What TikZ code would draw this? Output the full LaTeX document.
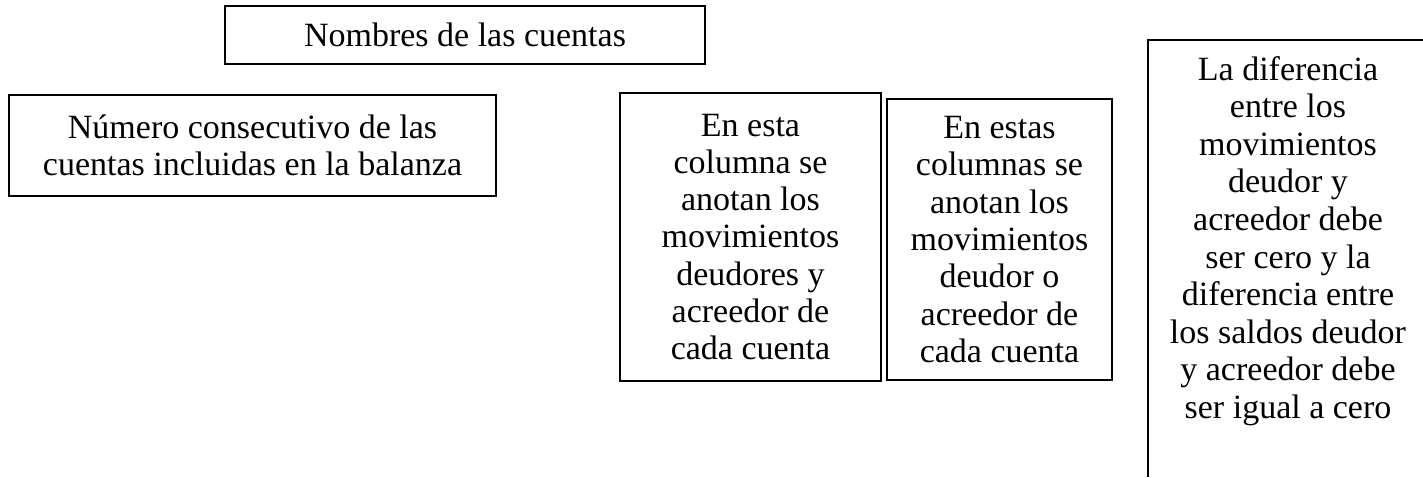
\documentclass[tikz,border=0pt]{standalone}
\usepackage{fontspec}
\setmainfont{Liberation Serif}
\begin{document}
\begin{tikzpicture}[x=1pt,y=-1pt,
  cbox/.style={draw=black, line width=1.2pt, inner sep=0pt, align=center, font=\fontsize{34}{37.3}\selectfont},
  ctext/.style={inner sep=0pt, align=center}]
\useasboundingbox (0,0) rectangle (1423,477);
\node[cbox, minimum width=480pt, minimum height=58pt] (nombres) at (465,35) {Nombres de las cuentas};
\node[cbox, minimum width=487pt, minimum height=101pt, font=\fontsize{34}{37}\selectfont] (numero) at (252.5,145.5) {Número consecutivo de las\\cuentas incluidas en la balanza};
\node[cbox, minimum width=261pt, minimum height=288pt] (columna) at (750.5,237) {En esta\\columna se\\anotan los\\movimientos\\deudores y\\acreedor de\\cada cuenta};
\node[cbox, minimum width=225pt, minimum height=281pt] (columnas) at (999.5,239.5) {En estas\\columnas se\\anotan los\\movimientos\\deudor o\\acreedor de\\cada cuenta};
\node[ctext, font=\fontsize{34}{37.6}\selectfont] (diferencia) at (1288,241) {La diferencia\\entre los\\movimientos\\deudor y\\acreedor debe\\ser cero y la\\diferencia entre\\los saldos deudor\\y acreedor debe\\ser igual a cero};
\coordinate (dtl) at (1148,40);
\coordinate (dtr) at (1423,40);
\coordinate (dbl) at (1148,477);
\draw[line width=1.2pt] (dtr) -- (dtl) -- (dbl);
\end{tikzpicture}
\end{document}
